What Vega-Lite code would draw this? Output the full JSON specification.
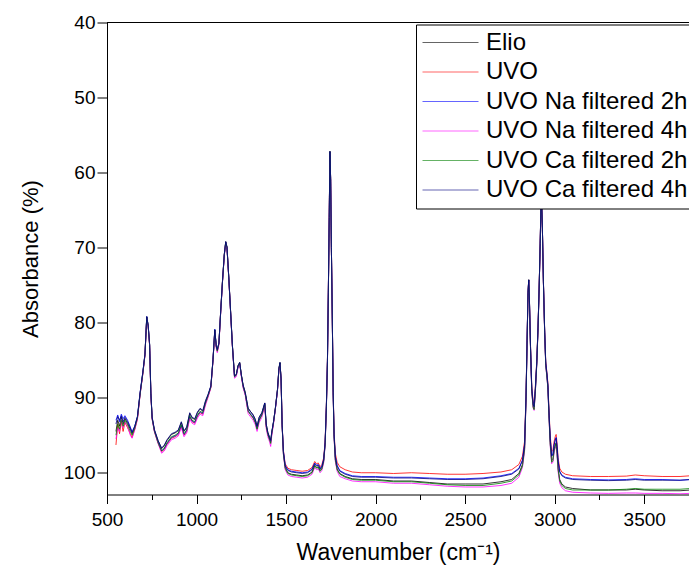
{
  "$schema": "https://vega.github.io/schema/vega-lite/v6.json",
  "width": 582,
  "height": 472,
  "autosize": "none",
  "padding": {"left": 107, "top": 22.5, "right": 0, "bottom": 75.5},
  "config": {
    "font": "Liberation Sans",
    "view": {"stroke": null},
    "axis": {"grid": false, "domainColor": "black", "tickColor": "black", "labelColor": "black", "titleColor": "black", "domainWidth": 1, "tickWidth": 1, "titleFontWeight": "normal", "labelFont": "Liberation Sans", "titleFont": "Liberation Sans"}
  },
  "data": {"values": [
{"x":550,"E":94.5,"U":96.3,"N2":93.0,"N4":95.5,"C2":95.0,"C4":93.5},
{"x":560,"E":93.0,"U":93.5,"N2":92.3,"N4":94.0,"C2":93.5,"C4":92.5},
{"x":570,"E":93.8,"U":94.8,"N2":93.2,"N4":94.5,"C2":94.2,"C4":93.0},
{"x":580,"E":92.6,"U":93.2,"N2":92.2,"N4":93.0,"C2":93.0,"C4":92.4},
{"x":590,"E":93.5,"U":94.5,"N2":92.8,"N4":94.0,"C2":93.8,"C4":93.2},
{"x":600,"E":92.8,"U":93.3,"N2":92.4,"N4":93.2,"C2":93.0,"C4":92.6},
{"x":615,"E":93.4,"U":94.0,"N2":93.0,"N4":93.8,"C2":93.6,"C4":93.2},
{"x":630,"E":94.2,"U":94.8,"N2":93.9,"N4":95.0,"C2":94.5,"C4":94.0},
{"x":640,"E":94.8,"U":95.3,"N2":94.6,"N4":95.4,"C2":95.0,"C4":94.6},
{"x":655,"E":93.9,"U":94.2,"N2":93.8,"N4":94.3,"C2":94.1,"C4":93.8},
{"x":670,"E":92.6,"U":92.8,"N2":92.5,"N4":92.9,"C2":92.7,"C4":92.5},
{"x":685,"E":89.4,"U":89.5,"N2":89.3,"N4":89.6,"C2":89.5,"C4":89.3},
{"x":700,"E":86.7,"U":86.8,"N2":86.6,"N4":86.9,"C2":86.8,"C4":86.6},
{"x":712,"E":84.2,"U":84.3,"N2":84.2,"N4":84.4,"C2":84.3,"C4":84.2},
{"x":722,"E":79.2,"U":79.3,"N2":79.2,"N4":79.4,"C2":79.3,"C4":79.2},
{"x":730,"E":80.4,"U":80.5,"N2":80.4,"N4":80.6,"C2":80.5,"C4":80.4},
{"x":738,"E":82.9,"U":83.0,"N2":82.9,"N4":83.1,"C2":83.0,"C4":82.9},
{"x":745,"E":89.4,"U":89.5,"N2":89.4,"N4":89.6,"C2":89.5,"C4":89.4},
{"x":752,"E":92.6,"U":92.8,"N2":92.7,"N4":92.9,"C2":92.8,"C4":92.6},
{"x":765,"E":94.3,"U":94.5,"N2":94.4,"N4":94.6,"C2":94.5,"C4":94.3},
{"x":785,"E":95.7,"U":96.0,"N2":95.9,"N4":96.1,"C2":96.0,"C4":95.7},
{"x":805,"E":96.8,"U":97.2,"N2":97.1,"N4":97.4,"C2":97.1,"C4":96.7},
{"x":820,"E":96.4,"U":96.9,"N2":96.8,"N4":97.1,"C2":96.7,"C4":96.3},
{"x":835,"E":95.7,"U":96.2,"N2":96.1,"N4":96.4,"C2":96.0,"C4":95.6},
{"x":860,"E":94.9,"U":95.4,"N2":95.3,"N4":95.6,"C2":95.2,"C4":94.8},
{"x":880,"E":94.7,"U":95.2,"N2":95.1,"N4":95.4,"C2":95.0,"C4":94.6},
{"x":898,"E":94.4,"U":94.9,"N2":94.8,"N4":95.1,"C2":94.7,"C4":94.3},
{"x":915,"E":93.3,"U":93.8,"N2":93.7,"N4":94.0,"C2":93.6,"C4":93.2},
{"x":930,"E":94.5,"U":95.0,"N2":94.9,"N4":95.2,"C2":94.8,"C4":94.4},
{"x":945,"E":94.0,"U":94.5,"N2":94.4,"N4":94.7,"C2":94.3,"C4":93.9},
{"x":962,"E":92.1,"U":92.6,"N2":92.5,"N4":92.8,"C2":92.4,"C4":92.0},
{"x":975,"E":92.7,"U":93.2,"N2":93.1,"N4":93.4,"C2":93.0,"C4":92.6},
{"x":990,"E":92.9,"U":93.4,"N2":93.3,"N4":93.6,"C2":93.2,"C4":92.8},
{"x":1005,"E":92.0,"U":92.5,"N2":92.4,"N4":92.7,"C2":92.3,"C4":91.9},
{"x":1020,"E":91.5,"U":92.0,"N2":91.9,"N4":92.2,"C2":91.8,"C4":91.4},
{"x":1035,"E":91.8,"U":92.2,"N2":92.1,"N4":92.4,"C2":92.0,"C4":91.7},
{"x":1050,"E":90.5,"U":90.8,"N2":90.7,"N4":91.0,"C2":90.7,"C4":90.4},
{"x":1065,"E":89.6,"U":89.8,"N2":89.7,"N4":89.9,"C2":89.7,"C4":89.5},
{"x":1080,"E":88.5,"U":88.6,"N2":88.5,"N4":88.7,"C2":88.6,"C4":88.4},
{"x":1092,"E":84.9,"U":85.0,"N2":84.9,"N4":85.1,"C2":85.0,"C4":84.9},
{"x":1102,"E":81.0,"U":81.0,"N2":80.9,"N4":81.1,"C2":81.0,"C4":80.9},
{"x":1110,"E":83.1,"U":83.2,"N2":83.1,"N4":83.4,"C2":83.2,"C4":83.1},
{"x":1116,"E":83.6,"U":83.8,"N2":83.7,"N4":84.0,"C2":83.8,"C4":83.6},
{"x":1125,"E":82.7,"U":82.8,"N2":82.7,"N4":83.0,"C2":82.8,"C4":82.7},
{"x":1135,"E":78.4,"U":78.5,"N2":78.5,"N4":78.6,"C2":78.5,"C4":78.4},
{"x":1145,"E":74.4,"U":74.5,"N2":74.5,"N4":74.6,"C2":74.5,"C4":74.4},
{"x":1155,"E":70.9,"U":71.0,"N2":71.0,"N4":71.1,"C2":71.0,"C4":70.9},
{"x":1163,"E":69.2,"U":69.3,"N2":69.3,"N4":69.4,"C2":69.3,"C4":69.2},
{"x":1170,"E":69.9,"U":70.0,"N2":70.0,"N4":70.1,"C2":70.0,"C4":69.9},
{"x":1180,"E":73.9,"U":74.0,"N2":74.0,"N4":74.1,"C2":74.0,"C4":73.9},
{"x":1190,"E":78.4,"U":78.5,"N2":78.5,"N4":78.6,"C2":78.5,"C4":78.4},
{"x":1200,"E":82.9,"U":83.0,"N2":83.0,"N4":83.1,"C2":83.0,"C4":82.9},
{"x":1212,"E":87.1,"U":87.2,"N2":87.2,"N4":87.4,"C2":87.2,"C4":87.1},
{"x":1222,"E":86.9,"U":87.0,"N2":87.0,"N4":87.2,"C2":87.0,"C4":86.9},
{"x":1232,"E":85.7,"U":85.8,"N2":85.8,"N4":86.0,"C2":85.8,"C4":85.7},
{"x":1241,"E":85.3,"U":85.4,"N2":85.4,"N4":85.5,"C2":85.4,"C4":85.3},
{"x":1250,"E":86.9,"U":87.0,"N2":87.0,"N4":87.2,"C2":87.0,"C4":86.9},
{"x":1260,"E":88.3,"U":88.5,"N2":88.5,"N4":88.7,"C2":88.5,"C4":88.3},
{"x":1272,"E":89.3,"U":89.5,"N2":89.5,"N4":89.7,"C2":89.5,"C4":89.3},
{"x":1288,"E":91.4,"U":91.8,"N2":91.7,"N4":92.1,"C2":91.8,"C4":91.4},
{"x":1300,"E":91.8,"U":92.2,"N2":92.1,"N4":92.5,"C2":92.2,"C4":91.8},
{"x":1316,"E":92.3,"U":92.7,"N2":92.6,"N4":93.0,"C2":92.7,"C4":92.3},
{"x":1328,"E":92.9,"U":93.3,"N2":93.2,"N4":93.6,"C2":93.3,"C4":92.9},
{"x":1338,"E":93.8,"U":94.2,"N2":94.1,"N4":94.5,"C2":94.2,"C4":93.8},
{"x":1350,"E":92.6,"U":93.0,"N2":92.9,"N4":93.3,"C2":93.0,"C4":92.6},
{"x":1365,"E":92.0,"U":92.3,"N2":92.2,"N4":92.6,"C2":92.3,"C4":92.0},
{"x":1381,"E":90.7,"U":90.9,"N2":90.8,"N4":91.1,"C2":90.9,"C4":90.7},
{"x":1389,"E":93.5,"U":93.8,"N2":93.7,"N4":94.1,"C2":93.8,"C4":93.5},
{"x":1398,"E":94.6,"U":94.9,"N2":94.8,"N4":95.2,"C2":94.9,"C4":94.6},
{"x":1408,"E":95.3,"U":95.6,"N2":95.5,"N4":95.9,"C2":95.6,"C4":95.3},
{"x":1414,"E":95.7,"U":96.0,"N2":95.9,"N4":96.5,"C2":96.1,"C4":95.7},
{"x":1420,"E":94.6,"U":94.8,"N2":94.7,"N4":95.1,"C2":94.8,"C4":94.6},
{"x":1430,"E":93.2,"U":93.3,"N2":93.2,"N4":93.5,"C2":93.3,"C4":93.2},
{"x":1440,"E":91.4,"U":91.5,"N2":91.5,"N4":91.6,"C2":91.5,"C4":91.4},
{"x":1452,"E":88.9,"U":89.0,"N2":89.0,"N4":89.1,"C2":89.0,"C4":88.9},
{"x":1460,"E":86.1,"U":86.2,"N2":86.2,"N4":86.3,"C2":86.2,"C4":86.1},
{"x":1466,"E":85.3,"U":85.4,"N2":85.4,"N4":85.5,"C2":85.4,"C4":85.3},
{"x":1472,"E":87.5,"U":87.5,"N2":87.5,"N4":87.6,"C2":87.5,"C4":87.5},
{"x":1478,"E":93.7,"U":93.5,"N2":93.6,"N4":93.8,"C2":93.7,"C4":93.6},
{"x":1485,"E":97.4,"U":97.0,"N2":97.1,"N4":97.6,"C2":97.5,"C4":97.2},
{"x":1495,"E":99.3,"U":98.8,"N2":99.0,"N4":99.6,"C2":99.4,"C4":99.1},
{"x":1510,"E":100.0,"U":99.4,"N2":99.6,"N4":100.3,"C2":100.1,"C4":99.7},
{"x":1530,"E":100.2,"U":99.6,"N2":99.8,"N4":100.5,"C2":100.3,"C4":99.9},
{"x":1560,"E":100.3,"U":99.7,"N2":99.9,"N4":100.6,"C2":100.4,"C4":100.0},
{"x":1590,"E":100.4,"U":99.8,"N2":100.0,"N4":100.7,"C2":100.5,"C4":100.1},
{"x":1620,"E":100.3,"U":99.7,"N2":99.9,"N4":100.6,"C2":100.4,"C4":100.0},
{"x":1645,"E":99.9,"U":99.3,"N2":99.5,"N4":100.2,"C2":100.0,"C4":99.6},
{"x":1660,"E":99.0,"U":98.5,"N2":98.7,"N4":99.3,"C2":99.1,"C4":98.8},
{"x":1670,"E":99.3,"U":98.8,"N2":99.0,"N4":99.6,"C2":99.4,"C4":99.1},
{"x":1680,"E":99.2,"U":98.7,"N2":98.9,"N4":99.5,"C2":99.3,"C4":99.0},
{"x":1690,"E":99.7,"U":99.2,"N2":99.4,"N4":100.0,"C2":99.8,"C4":99.5},
{"x":1700,"E":99.4,"U":98.9,"N2":99.1,"N4":99.7,"C2":99.5,"C4":99.2},
{"x":1710,"E":98.4,"U":98.0,"N2":98.2,"N4":98.7,"C2":98.5,"C4":98.3},
{"x":1718,"E":96.2,"U":95.8,"N2":96.0,"N4":96.4,"C2":96.3,"C4":96.0},
{"x":1725,"E":91.3,"U":91.0,"N2":91.1,"N4":91.5,"C2":91.4,"C4":91.2},
{"x":1731,"E":85.2,"U":85.0,"N2":85.1,"N4":85.3,"C2":85.2,"C4":85.1},
{"x":1736,"E":76.1,"U":76.0,"N2":76.0,"N4":76.1,"C2":76.1,"C4":76.0},
{"x":1741,"E":66.0,"U":66.0,"N2":66.0,"N4":66.1,"C2":66.0,"C4":66.0},
{"x":1745,"E":57.2,"U":57.2,"N2":57.2,"N4":57.3,"C2":57.2,"C4":57.2},
{"x":1749,"E":61.0,"U":61.0,"N2":61.0,"N4":61.1,"C2":61.0,"C4":61.0},
{"x":1753,"E":70.0,"U":70.0,"N2":70.0,"N4":70.1,"C2":70.0,"C4":70.0},
{"x":1758,"E":79.1,"U":79.0,"N2":79.0,"N4":79.1,"C2":79.1,"C4":79.0},
{"x":1763,"E":89.4,"U":89.0,"N2":89.2,"N4":89.6,"C2":89.5,"C4":89.3},
{"x":1768,"E":95.1,"U":94.5,"N2":94.8,"N4":95.4,"C2":95.2,"C4":94.9},
{"x":1775,"E":98.2,"U":97.4,"N2":97.8,"N4":98.5,"C2":98.3,"C4":97.9},
{"x":1785,"E":99.5,"U":98.6,"N2":99.0,"N4":99.8,"C2":99.6,"C4":99.1},
{"x":1800,"E":100.1,"U":99.2,"N2":99.7,"N4":100.5,"C2":100.2,"C4":99.8},
{"x":1830,"E":100.5,"U":99.6,"N2":100.1,"N4":100.8,"C2":100.6,"C4":100.2},
{"x":1870,"E":100.8,"U":99.9,"N2":100.4,"N4":101.1,"C2":100.9,"C4":100.5},
{"x":1920,"E":100.9,"U":100.0,"N2":100.5,"N4":101.2,"C2":101.0,"C4":100.6},
{"x":2000,"E":100.9,"U":100.0,"N2":100.5,"N4":101.2,"C2":101.0,"C4":100.6},
{"x":2100,"E":101.1,"U":100.1,"N2":100.6,"N4":101.4,"C2":101.2,"C4":100.7},
{"x":2200,"E":101.1,"U":100.0,"N2":100.6,"N4":101.4,"C2":101.2,"C4":100.7},
{"x":2300,"E":101.3,"U":100.1,"N2":100.7,"N4":101.6,"C2":101.4,"C4":100.8},
{"x":2400,"E":101.5,"U":100.2,"N2":100.8,"N4":101.8,"C2":101.6,"C4":100.9},
{"x":2500,"E":101.5,"U":100.2,"N2":100.8,"N4":101.9,"C2":101.7,"C4":100.9},
{"x":2600,"E":101.5,"U":100.1,"N2":100.7,"N4":101.9,"C2":101.7,"C4":100.8},
{"x":2700,"E":101.2,"U":99.9,"N2":100.4,"N4":101.7,"C2":101.4,"C4":100.5},
{"x":2760,"E":100.9,"U":99.6,"N2":100.1,"N4":101.4,"C2":101.1,"C4":100.2},
{"x":2800,"E":100.1,"U":98.9,"N2":99.4,"N4":100.6,"C2":100.3,"C4":99.5},
{"x":2820,"E":98.9,"U":97.8,"N2":98.3,"N4":99.3,"C2":99.1,"C4":98.4},
{"x":2832,"E":96.7,"U":95.8,"N2":96.2,"N4":97.1,"C2":96.9,"C4":96.3},
{"x":2840,"E":90.1,"U":89.5,"N2":89.8,"N4":90.4,"C2":90.2,"C4":89.8},
{"x":2846,"E":82.3,"U":82.0,"N2":82.1,"N4":82.5,"C2":82.4,"C4":82.2},
{"x":2851,"E":76.1,"U":76.0,"N2":76.0,"N4":76.2,"C2":76.1,"C4":76.0},
{"x":2855,"E":74.3,"U":74.3,"N2":74.3,"N4":74.4,"C2":74.3,"C4":74.3},
{"x":2859,"E":77.1,"U":77.0,"N2":77.0,"N4":77.2,"C2":77.1,"C4":77.0},
{"x":2865,"E":83.4,"U":83.0,"N2":83.2,"N4":83.6,"C2":83.5,"C4":83.2},
{"x":2872,"E":89.1,"U":88.5,"N2":88.8,"N4":89.3,"C2":89.2,"C4":88.8},
{"x":2880,"E":91.2,"U":90.5,"N2":90.8,"N4":91.4,"C2":91.3,"C4":90.9},
{"x":2885,"E":91.5,"U":90.8,"N2":91.1,"N4":91.7,"C2":91.6,"C4":91.2},
{"x":2892,"E":89.1,"U":88.5,"N2":88.8,"N4":89.3,"C2":89.2,"C4":88.8},
{"x":2900,"E":85.4,"U":85.0,"N2":85.2,"N4":85.6,"C2":85.5,"C4":85.2},
{"x":2907,"E":80.7,"U":80.5,"N2":80.6,"N4":80.9,"C2":80.8,"C4":80.6},
{"x":2913,"E":75.6,"U":75.5,"N2":75.5,"N4":75.7,"C2":75.6,"C4":75.5},
{"x":2919,"E":69.5,"U":69.5,"N2":69.5,"N4":69.6,"C2":69.5,"C4":69.5},
{"x":2925,"E":62.5,"U":62.5,"N2":62.5,"N4":62.6,"C2":62.5,"C4":62.5},
{"x":2931,"E":67.0,"U":67.0,"N2":67.0,"N4":67.1,"C2":67.0,"C4":67.0},
{"x":2937,"E":74.6,"U":74.5,"N2":74.5,"N4":74.7,"C2":74.6,"C4":74.5},
{"x":2944,"E":81.3,"U":81.0,"N2":81.1,"N4":81.4,"C2":81.3,"C4":81.1},
{"x":2950,"E":85.6,"U":85.2,"N2":85.4,"N4":85.8,"C2":85.7,"C4":85.4},
{"x":2956,"E":87.0,"U":86.5,"N2":86.7,"N4":87.2,"C2":87.1,"C4":86.7},
{"x":2962,"E":88.6,"U":88.0,"N2":88.3,"N4":88.8,"C2":88.7,"C4":88.3},
{"x":2968,"E":92.3,"U":91.5,"N2":91.9,"N4":92.6,"C2":92.4,"C4":91.9},
{"x":2975,"E":96.0,"U":95.0,"N2":95.4,"N4":96.4,"C2":96.2,"C4":95.5},
{"x":2983,"E":98.4,"U":97.2,"N2":97.7,"N4":98.8,"C2":98.6,"C4":97.8},
{"x":2990,"E":98.2,"U":97.0,"N2":97.5,"N4":98.6,"C2":98.4,"C4":97.6},
{"x":2997,"E":96.9,"U":95.8,"N2":96.2,"N4":97.3,"C2":97.1,"C4":96.3},
{"x":3003,"E":96.3,"U":95.2,"N2":95.6,"N4":96.7,"C2":96.5,"C4":95.7},
{"x":3008,"E":96.0,"U":94.9,"N2":95.3,"N4":96.4,"C2":96.2,"C4":95.4},
{"x":3013,"E":97.2,"U":96.0,"N2":96.4,"N4":97.6,"C2":97.4,"C4":96.5},
{"x":3019,"E":99.4,"U":98.0,"N2":98.4,"N4":99.9,"C2":99.6,"C4":98.5},
{"x":3028,"E":100.9,"U":99.4,"N2":99.8,"N4":101.4,"C2":101.1,"C4":99.9},
{"x":3040,"E":101.5,"U":99.9,"N2":100.3,"N4":102.0,"C2":101.7,"C4":100.4},
{"x":3060,"E":101.9,"U":100.2,"N2":100.6,"N4":102.4,"C2":102.1,"C4":100.7},
{"x":3100,"E":102.1,"U":100.4,"N2":100.8,"N4":102.6,"C2":102.3,"C4":100.9},
{"x":3200,"E":102.3,"U":100.5,"N2":100.9,"N4":102.7,"C2":102.3,"C4":101.0},
{"x":3300,"E":102.3,"U":100.5,"N2":100.95,"N4":102.75,"C2":102.3,"C4":101.05},
{"x":3400,"E":102.3,"U":100.45,"N2":100.9,"N4":102.7,"C2":102.2,"C4":101.0},
{"x":3450,"E":102.2,"U":100.3,"N2":100.8,"N4":102.7,"C2":102.1,"C4":100.9},
{"x":3500,"E":102.3,"U":100.4,"N2":100.9,"N4":102.75,"C2":102.2,"C4":101.0},
{"x":3600,"E":102.4,"U":100.5,"N2":100.9,"N4":102.75,"C2":102.2,"C4":101.0},
{"x":3700,"E":102.4,"U":100.5,"N2":101.0,"N4":102.8,"C2":102.2,"C4":101.0},
{"x":3760,"E":102.3,"U":100.4,"N2":100.9,"N4":102.75,"C2":102.1,"C4":100.9}
  ]},
  "layer": [
    {
      "mark": {"type": "rule", "color": "black", "strokeWidth": 1},
      "encoding": {"y": {"datum": 40, "type": "quantitative"}}
    },
    {
      "transform": [{"fold": ["E", "U", "N2", "N4", "C2", "C4"], "as": ["s", "v"]}],
      "mark": {"type": "line", "strokeWidth": 0.8, "clip": true},
      "encoding": {
        "x": {
          "field": "x", "type": "quantitative",
          "scale": {"domain": [500, 3750], "nice": false, "zero": false},
          "axis": {
            "title": "Wavenumber (cm⁻¹)",
            "titleFontSize": 23,
            "titlePadding": 12,
            "values": [500, 750, 1000, 1250, 1500, 1750, 2000, 2250, 2500, 2750, 3000, 3250, 3500, 3750],
            "format": "d",
            "labelExpr": "datum.value % 500 === 0 ? datum.label : ''",
            "labelFontSize": 19,
            "labelPadding": 7,
            "labelFlush": false,
            "labelOverlap": false,
            "tickSize": {"condition": {"test": "datum.value % 500 === 0", "value": 9}, "value": 5}
          }
        },
        "y": {
          "field": "v", "type": "quantitative",
          "scale": {"domain": [40, 102.9], "reverse": true, "nice": false, "zero": false},
          "axis": {
            "title": "Absorbance (%)",
            "titleFontSize": 22,
            "titlePadding": 21,
            "values": [40, 45, 50, 55, 60, 65, 70, 75, 80, 85, 90, 95, 100],
            "labelExpr": "datum.value % 10 === 0 ? datum.label : ''",
            "labelFontSize": 19,
            "labelPadding": 2,
            "labelOverlap": false,
            "tickSize": {"condition": {"test": "datum.value % 10 === 0", "value": 10}, "value": 5}
          }
        },
        "color": {
          "field": "s", "type": "nominal",
          "scale": {"domain": ["E", "U", "N2", "N4", "C2", "C4"], "range": ["#000000", "#ff0000", "#0000ff", "#ff00ff", "#008000", "#000080"]},
          "legend": {
            "title": null,
            "orient": "none",
            "legendX": 309,
            "legendY": 2,
            "strokeColor": "black",
            "fillColor": "white",
            "padding": 6,
            "cornerRadius": 0,
            "symbolType": "stroke",
            "symbolSize": 3136,
            "symbolStrokeWidth": 1,
            "symbolOpacity": 0.6,
            "clipHeight": 24,
            "rowPadding": 5.5,
            "labelOffset": 7,
            "labelFontSize": 24,
            "labelFont": "Liberation Sans",
            "labelColor": "black",
            "labelLimit": 400,
            "labelExpr": "datum.label === 'E' ? 'Elio' : datum.label === 'U' ? 'UVO' : datum.label === 'N2' ? 'UVO Na filtered 2h' : datum.label === 'N4' ? 'UVO Na filtered 4h' : datum.label === 'C2' ? 'UVO Ca filtered 2h' : 'UVO Ca filtered 4h'"
          }
        }
      }
    }
  ]
}
